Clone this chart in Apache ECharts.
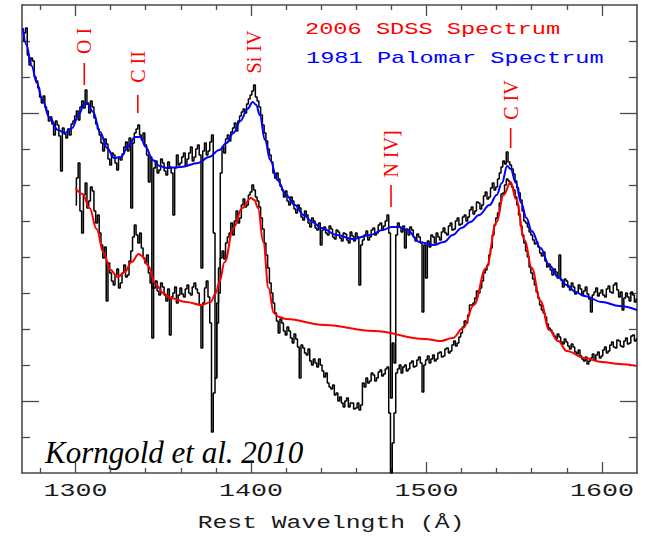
<!DOCTYPE html>
<html><head><meta charset="utf-8">
<script src="https://cdn.jsdelivr.net/npm/echarts@6/dist/echarts.min.js"></script>
<style>html,body{margin:0;padding:0;background:#fff}#c{width:651px;height:539px}</style>
</head><body><div id="c"></div>
<script>
// ---- axes ----
const xMin = 1269.5, xMax = 1620;
const yMin = 0, yMax = 468;
const xTickLabels = [1300, 1400, 1500, 1600];
const xMinorTicks = [1280, 1320, 1340, 1360, 1380, 1420, 1440, 1460, 1480, 1520, 1540, 1560, 1580];
const yMajorTicks = [72, 360];
const yMinorTicks = [36, 108, 144, 180, 216, 252, 288, 324, 396, 432];
const xTitle = 'Rest Wavelngth (Å)';
const legendTexts = ['2006 SDSS Spectrum', '1981 Palomar Spectrum'];
const creditText = 'Korngold et al. 2010';

// ---- 1981 Palomar spectrum (1 Å bins from 1270 Å) ----
const upperStart = 1270, binStep = 1;
const upperFlux = [
432,440,445,418,408,415,412,396,392,385,376,370,377,366,362,352,356,349,338,352,
348,337,302,345,339,335,344,338,349,352,357,362,353,366,372,365,383,370,360,372,
366,355,349,344,338,330,322,334,329,314,308,320,318,310,303,316,313,319,326,331,
322,335,265,330,340,344,348,338,333,340,328,318,291,316,185,305,312,300,303,314,
310,302,298,311,306,300,258,305,318,308,310,316,320,307,314,320,326,312,316,324,
328,318,205,322,330,318,322,331,338,240,95,150,180,300,326,320,334,338,332,341,
345,350,342,352,357,361,364,360,369,374,378,382,388,376,372,366,358,348,340,332,
324,318,311,300,295,300,294,287,283,276,282,272,268,276,272,264,260,268,265,256,
253,262,258,250,246,255,252,245,243,250,228,243,246,240,238,247,244,236,234,243,
241,235,232,240,239,233,230,241,237,232,240,236,188,228,233,238,242,233,236,243,
245,238,240,248,250,243,247,252,258,240,75,130,110,238,250,246,241,247,225,244,
238,246,243,236,232,239,236,230,161,228,195,232,226,238,236,230,240,236,233,241,
245,240,238,247,250,243,244,252,255,248,249,256,258,252,256,263,266,259,262,271,
270,264,268,277,281,274,276,285,290,283,286,294,300,306,312,309,321,311,308,304,
299,292,285,280,273,262,252,250,246,241,238,233,229,231,226,220,217,221,212,206,
209,203,198,204,201,195,218,193,186,194,192,186,183,190,186,179,181,188,184,178,
182,186,179,174,161,178,181,185,177,180,183,178,176,184,187,181,180,188,190,183,
176,181,163,175,180,176,172,181,178,171,174];

// ---- 2006 SDSS spectrum (1 Å bins from 1300 Å) ----
const lowerStart = 1300;
const lowerFlux = [
268,295,310,262,240,278,290,265,272,286,282,262,250,258,240,228,215,226,172,210,
200,192,188,198,204,185,190,200,208,196,198,212,222,236,248,238,230,240,225,215,
210,218,200,190,135,185,192,182,178,190,186,178,172,184,138,176,180,186,170,178,
185,179,176,184,188,180,178,186,190,184,180,168,125,170,185,192,176,150,41,80,
95,170,205,215,222,214,230,236,240,250,238,252,262,250,255,268,274,266,268,278,
281,288,283,276,272,266,255,244,230,218,205,190,180,170,160,152,140,154,150,142,
138,146,142,135,130,139,134,126,95,128,125,120,118,124,112,108,114,110,106,114,
108,102,96,100,90,86,84,88,78,80,72,76,70,66,72,75,66,70,70,64,
65,70,63,68,90,86,95,90,92,100,98,92,95,101,103,97,99,104,106,60,
0,30,60,100,104,108,100,106,108,102,104,110,112,106,107,113,116,110,81,108,
113,117,110,114,118,112,114,120,121,116,117,124,125,120,122,128,132,127,130,136,
140,146,152,150,158,168,168,170,175,182,180,185,192,200,203,208,218,225,238,248,
255,260,270,279,280,288,294,292,289,286,283,276,268,258,247,238,230,222,216,206,
200,194,188,181,175,168,163,160,156,149,145,143,140,137,134,139,136,131,129,134,
131,127,124,129,126,121,119,123,117,114,112,116,109,112,115,119,113,118,121,115,
117,123,126,120,122,128,131,126,125,133,132,127,126,132,135,129,130,137,138,132,134];

// ---- fits ----
const blueWave = [1270,1272,1275,1278,1281,1285,1290,1294,1298,1302,1305,1307,1310,1314,1318,1322,1326,1330,1334,1337,1340,1344,1348,1352,1360,1370,1376,1382,1386,1390,1394,1398,1401,1403,1405,1408,1411,1415,1420,1425,1430,1435,1440,1449,1458,1468,1475,1480,1484,1489,1496,1504,1510,1515,1520,1525,1530,1536,1540,1543,1546,1548,1551,1554,1557,1560,1565,1570,1575,1580,1585,1590,1600,1610,1620];
const blueFlux = [445,428,407,390,374,356,343,340,345,359,369,369,361,341,325,315,316,327,336,336,326,313,307,305,306,310,316,323,330,340,352,364,371,368,358,333,313,293,278,268,258,251,245,238,234,238,243,246,246,243,231,228,231,238,245,251,258,268,278,290,307,304,290,270,255,242,225,208,196,188,181,177,171,167,163];
const redWave = [1300,1304,1308,1312,1316,1320,1324,1328,1332,1336,1338,1341,1346,1350,1354,1363,1372,1377,1380,1382,1385,1390,1395,1400,1402,1404,1407,1410,1413,1416,1420,1442,1470,1499,1508,1515,1521,1527,1534,1540,1544,1548,1551,1556,1560,1565,1570,1575,1580,1590,1600,1610,1620];
const redFlux = [285,279,265,244,220,203,196,201,211,219,217,208,188,180,175,171,168,171,180,191,211,245,265,275,273,265,231,185,160,156,154,148,142,134,132,135,145,168,205,251,278,291,274,233,205,172,143,132,122,115,111,109,107];

// ---- line identifications ----
const annText = ['O I', 'C II', 'Si IV', 'N IV]', 'C IV'];
const annWave = [1305, 1335.5, 1402, 1479.8, 1548];
const annTextFlux = [432, 406, 421, 319, 373];
const annTickTop = [410, 378, null, 288, 345];
const annTickBottom = [388, 360, null, 266, 325];

const AX = '#4a4a4a';
function xAx(pos, vals, len, showLine) {
  return { type: 'value', min: xMin, max: xMax, position: pos, gridIndex: 0,
    axisLine: { show: showLine, onZero: false, lineStyle: { color: AX, width: 1.6 } },
    axisTick: { show: true, inside: true, length: len, customValues: vals, lineStyle: { color: AX, width: 1.3 } },
    axisLabel: { show: false }, splitLine: { show: false } };
}
function yAx(pos, vals, len, showLine) {
  return { type: 'value', min: yMin, max: yMax, position: pos, gridIndex: 0,
    axisLine: { show: showLine, onZero: false, lineStyle: { color: AX, width: 1.6 } },
    axisTick: { show: true, inside: true, length: len, customValues: vals, lineStyle: { color: AX, width: 1.3 } },
    axisLabel: { show: false }, splitLine: { show: false } };
}

const chart = echarts.init(document.getElementById('c'), null, { renderer: 'svg' });
const upperData = upperFlux.map((v, i) => [upperStart + i * binStep, v]);
const lowerData = lowerFlux.map((v, i) => [lowerStart + i * binStep, v]);

chart.setOption({
  animation: false,
  backgroundColor: '#fff',
  grid: { left: 22, right: 14, top: 5, bottom: 66 },
  xAxis: [xAx('bottom', xTickLabels, 11, true), xAx('bottom', xMinorTicks, 5, false),
          xAx('top', xTickLabels, 11, true), xAx('top', xMinorTicks, 5, false)],
  yAxis: [yAx('left', yMajorTicks, 17, true), yAx('left', yMinorTicks, 8, false),
          yAx('right', yMajorTicks, 17, true), yAx('right', yMinorTicks, 8, false)],
  series: [
    { type: 'line', data: upperData, step: 'middle', symbol: 'none', z: 2,
      lineStyle: { color: '#000', width: 1.5 } },
    { type: 'line', data: lowerData, step: 'middle', symbol: 'none', z: 2,
      lineStyle: { color: '#000', width: 1.5 } },
    { type: 'line', data: blueWave.map((w, i) => [w, blueFlux[i]]), smooth: 0.4, smoothMonotone: 'x',
      symbol: 'none', z: 3, lineStyle: { color: '#0000ff', width: 2 } },
    { type: 'line', data: redWave.map((w, i) => [w, redFlux[i]]), smooth: 0.4, smoothMonotone: 'x',
      symbol: 'none', z: 3, lineStyle: { color: '#ff0000', width: 2 } },
    { type: 'custom', z: 5, data: annWave.map((w, i) => [w, annTextFlux[i]]),
      renderItem: function (params, api) {
        const i = params.dataIndex;
        const p = api.coord([annWave[i], annTextFlux[i]]);
        const children = [{ type: 'text', x: p[0], y: p[1], rotation: Math.PI / 2,
          style: { text: annText[i], fill: '#ff0000', font: '20px "Liberation Serif"', align: 'center', verticalAlign: 'middle' } }];
        if (annTickTop[i] !== null) {
          const a = api.coord([annWave[i], annTickTop[i]]);
          const b = api.coord([annWave[i], annTickBottom[i]]);
          children.push({ type: 'line', shape: { x1: a[0], y1: a[1], x2: b[0], y2: b[1] },
            style: { stroke: '#ff0000', lineWidth: 1.6 } });
        }
        return { type: 'group', children: children };
      } }
  ]
});

const graphics = [
  { type: 'text', x: 305, y: 29, scaleX: 1.39, style: { text: legendTexts[0], fill: '#ff0000', font: '17px "Liberation Mono"', align: 'left', verticalAlign: 'middle' } },
  { type: 'text', x: 306, y: 58.5, scaleX: 1.39, style: { text: legendTexts[1], fill: '#0000ff', font: '17px "Liberation Mono"', align: 'left', verticalAlign: 'middle' } },
  { type: 'text', x: 331, y: 523, scaleX: 1.3, style: { text: xTitle, fill: '#1a1a1a', font: '19px "Liberation Mono"', align: 'center', verticalAlign: 'middle' } },
  { type: 'text', x: 45, y: 452, style: { text: creditText, fill: '#000', font: 'italic 31px "Liberation Serif"', align: 'left', verticalAlign: 'middle' } }
];
xTickLabels.forEach(v => {
  const px = chart.convertToPixel({ xAxisIndex: 0 }, v);
  graphics.push({ type: 'text', x: px, y: 491, scaleX: 1.48,
    style: { text: String(v), fill: '#1a1a1a', font: '18px "Liberation Mono"', align: 'center', verticalAlign: 'middle' } });
});
chart.setOption({ graphic: graphics });
</script></body></html>
